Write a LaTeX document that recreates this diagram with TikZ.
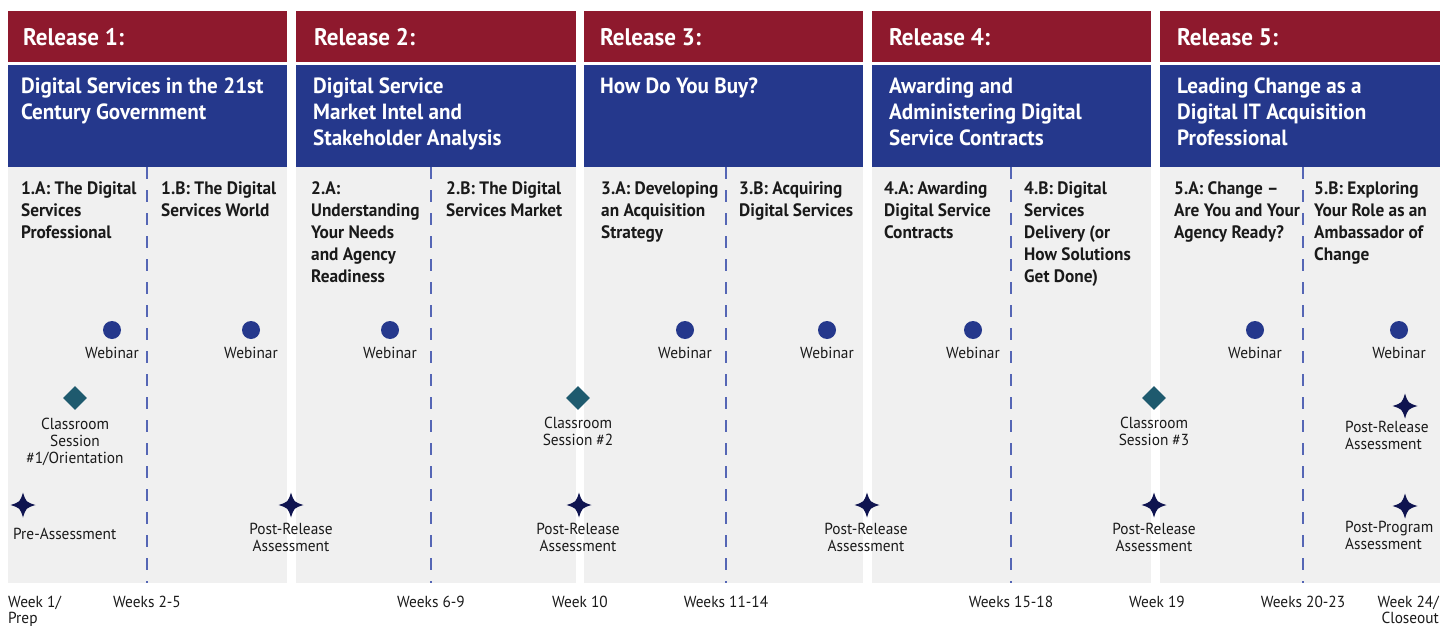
\documentclass[tikz,border=0pt]{standalone}
\usepackage{fontspec}
\setmainfont{PT Sans}[FakeStretch=0.96]
\usetikzlibrary{shapes.geometric}
\definecolor{relred}{RGB}{142,25,45}
\definecolor{relblue}{RGB}{37,56,140}
\definecolor{panelgray}{RGB}{240,240,240}
\definecolor{divblue}{RGB}{85,102,181}
\definecolor{dotblue}{RGB}{37,56,140}
\definecolor{teal}{RGB}{30,90,110}
\definecolor{navy}{RGB}{15,20,80}
\definecolor{ink}{RGB}{26,26,26}
% four-pointed sparkle drawn around a named node
\newcommand\sparkleat[1]{%
  \fill[navy,shift={(#1.center)}] (0,-12.5) .. controls (3,-3) .. (12.5,0)
    .. controls (3,3) .. (0,12.5) .. controls (-3,3) .. (-12.5,0)
    .. controls (-3,-3) .. cycle;}
\begin{document}
\begin{tikzpicture}[x=1pt,y=-1pt,
  reltitle/.style={text=white,font=\fontsize{24}{28}\selectfont\bfseries,inner sep=0pt,anchor=base west},
  theme/.style={text=white,font=\fontsize{22}{26}\selectfont\bfseries,inner sep=0pt,anchor=base west,align=left},
  module/.style={text=ink,font=\fontsize{18}{22}\selectfont\bfseries,inner sep=0pt,anchor=base west,align=left},
  lbl/.style={text=ink,font=\fontsize{16}{17}\selectfont,inner sep=0pt,anchor=base,align=center},
  week/.style={text=ink,font=\fontsize{16}{16}\selectfont,inner sep=0pt,anchor=base},
  webinar/.style={circle,fill=dotblue,minimum size=18pt,inner sep=0pt},
  classroom/.style={diamond,fill=teal,minimum size=24pt,inner sep=0pt},
  assess/.style={inner sep=0pt,minimum size=25pt},
  divider/.style={divblue,line width=1.4pt,dash pattern=on 12pt off 11pt}
]
\useasboundingbox (0,0) rectangle (1451,626);

% release panels: header, theme band, body, module divider
\foreach \l/\r/\d in {8/287/147, 296/576/431, 584/863/726, 872/1151/1011, 1160/1440/1303}{
  \fill[relred] (\l,11) rectangle (\r,62);
  \fill[relblue] (\l,65) rectangle (\r,167);
  \fill[panelgray] (\l,167) rectangle (\r,583);
  \draw[divider] (\d,167) -- (\d,583);
}

% release headers
\node[reltitle] (r1) at (23,46) {Release 1:};
\node[reltitle] (r2) at (314,46) {Release 2:};
\node[reltitle] (r3) at (600,46) {Release 3:};
\node[reltitle] (r4) at (889,46) {Release 4:};
\node[reltitle] (r5) at (1177,46) {Release 5:};

% release themes (anchored on the baseline of the last line)
\node[theme] (t1) at (21,119) {Digital Services in the 21st\\Century Government};
\node[theme] (t2) at (313,145) {Digital Service\\Market Intel and\\Stakeholder Analysis};
\node[theme] (t3) at (600,93) {How Do You Buy?};
\node[theme] (t4) at (889,145) {Awarding and\\Administering Digital\\Service Contracts};
\node[theme] (t5) at (1177,145) {Leading Change as a\\Digital IT Acquisition\\Professional};

% modules
\node[module] (m1a) at (21,238) {1.A: The Digital\\Services\\Professional};
\node[module] (m1b) at (161,216) {1.B: The Digital\\Services World};
\node[module] (m2a) at (311,282) {2.A:\\Understanding\\Your Needs\\and Agency\\Readiness};
\node[module] (m2b) at (446,216) {2.B: The Digital\\Services Market};
\node[module] (m3a) at (601,238) {3.A: Developing\\an Acquisition\\Strategy};
\node[module] (m3b) at (739,216) {3.B: Acquiring\\Digital Services};
\node[module] (m4a) at (884,238) {4.A: Awarding\\Digital Service\\Contracts};
\node[module] (m4b) at (1024,282) {4.B: Digital\\Services\\Delivery (or\\How Solutions\\Get Done)};
\node[module] (m5a) at (1174,238) {5.A: Change --\\Are You and Your\\Agency Ready?};
\node[module] (m5b) at (1314,260) {5.B: Exploring\\Your Role as an\\Ambassador of\\Change};

% webinars
\foreach \n/\x in {w1a/112, w1b/251, w2a/390, w3a/685, w3b/827, w4a/973, w5a/1255, w5b/1399}{
  \node[webinar] (\n) at (\x,330) {};
  \node[lbl] (\n-t) at (\x,358) {Webinar};
}

% classroom sessions
\node[classroom] (c1) at (75,398) {};
\node[lbl] (c1-t) at (75,463) {Classroom\\Session\\\#1/Orientation};
\node[classroom] (c2) at (578,398) {};
\node[lbl] (c2-t) at (578,445) {Classroom\\Session \#2};
\node[classroom] (c3) at (1154,398) {};
\node[lbl] (c3-t) at (1154,445) {Classroom\\Session \#3};

% assessments
\node[assess] (a0) at (23,505) {};
\node[lbl,anchor=base west] (a0-t) at (13,539) {Pre-Assessment};
\node[assess] (a1) at (291,505) {};
\node[lbl] (a1-t) at (291,551) {Post-Release\\Assessment};
\node[assess] (a2) at (579,505) {};
\node[lbl] (a2-t) at (578,551) {Post-Release\\Assessment};
\node[assess] (a3) at (867,505) {};
\node[lbl] (a3-t) at (866,551) {Post-Release\\Assessment};
\node[assess] (a4) at (1154,505) {};
\node[lbl] (a4-t) at (1154,551) {Post-Release\\Assessment};
\node[assess] (a5) at (1405,406) {};
\node[lbl,anchor=base west,align=left] (a5-t) at (1345,449) {Post-Release\\Assessment};
\node[assess] (a6) at (1405,506) {};
\node[lbl,anchor=base west,align=left] (a6-t) at (1345,549) {Post-Program\\Assessment};
\foreach \a in {a0,a1,a2,a3,a4,a5,a6}{\sparkleat{\a}}

% timeline
\node[week,anchor=base west,align=left] (k1) at (8,623) {Week 1/\\Prep};
\node[week] (k2) at (147,607) {Weeks 2-5};
\node[week] (k3) at (431,607) {Weeks 6-9};
\node[week] (k4) at (580,607) {Week 10};
\node[week] (k5) at (726,607) {Weeks 11-14};
\node[week] (k6) at (1011,607) {Weeks 15-18};
\node[week] (k7) at (1157,607) {Week 19};
\node[week] (k8) at (1303,607) {Weeks 20-23};
\node[week,anchor=base east,align=right] (k9) at (1439,623) {Week 24/\\Closeout};
\end{tikzpicture}
\end{document}
